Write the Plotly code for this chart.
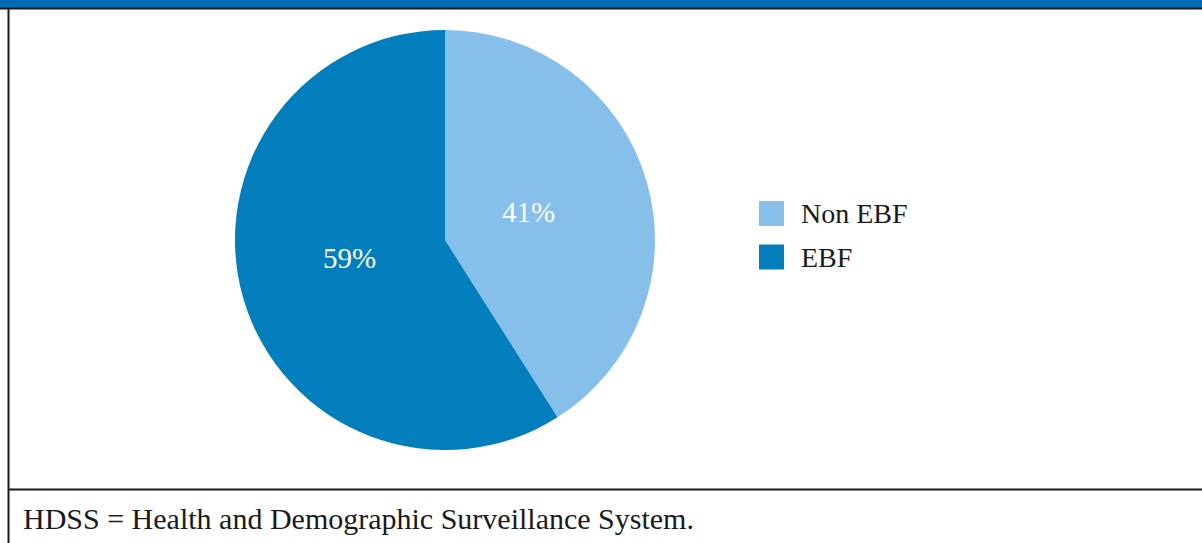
import plotly.graph_objects as go

labels = ["Non EBF", "EBF"]
values = [41, 59]
colors = ["#86BFEA", "#037EBC"]
footnote = "HDSS = Health and Demographic Surveillance System."

W, H = 1202, 543
FONT = "Liberation Serif"

def px(x):
    return x / W

def py(y):
    return 1 - y / H

cx, cy, r = 445, 240, 210

fig = go.Figure()
fig.add_trace(go.Pie(
    labels=labels,
    values=values,
    marker=dict(colors=colors, line=dict(width=0)),
    sort=False,
    direction="clockwise",
    rotation=0,
    textinfo="none",
    domain=dict(x=[px(cx - r), px(cx + r)], y=[py(cy + r), py(cy - r)]),
    showlegend=False,
    hoverinfo="label+percent",
))

shapes = [
    dict(type="rect", xref="paper", yref="paper", x0=0, x1=1, y0=py(8), y1=1,
         fillcolor="#006AB4", line=dict(width=0), layer="above"),
    dict(type="line", xref="paper", yref="paper", x0=0, x1=1, y0=py(8.5), y1=py(8.5),
         line=dict(color="#1a1a1a", width=2)),
    dict(type="line", xref="paper", yref="paper", x0=px(8.5), x1=px(8.5), y0=py(8), y1=0,
         line=dict(color="#1a1a1a", width=2)),
    dict(type="line", xref="paper", yref="paper", x0=px(8), x1=1, y0=py(489.5), y1=py(489.5),
         line=dict(color="#1a1a1a", width=2)),
]

annotations = []
# slice percentage labels
total = sum(values)
label_pos = [(528, 212), (349, 258)]
for v, (lx, ly) in zip(values, label_pos):
    annotations.append(dict(xref="paper", yref="paper", x=px(lx), y=py(ly),
                            xanchor="center", yanchor="middle", showarrow=False,
                            text=f"{round(100 * v / total)}%",
                            font=dict(family=FONT, size=29, color="white")))

leg_x0, leg_y0, leg_dy, sq = 759, 213.5, 43.5, 25
for i, (lab, col) in enumerate(zip(labels, colors)):
    yc = leg_y0 + i * leg_dy
    shapes.append(dict(type="rect", xref="paper", yref="paper",
                       x0=px(leg_x0), x1=px(leg_x0 + sq),
                       y0=py(yc + sq / 2), y1=py(yc - sq / 2),
                       fillcolor=col, line=dict(width=0)))
    annotations.append(dict(xref="paper", yref="paper", x=px(799), y=py(yc),
                            xanchor="left", yanchor="middle", showarrow=False,
                            text=lab, font=dict(family=FONT, size=28, color="#1a1a1a")))

annotations.append(dict(xref="paper", yref="paper", x=px(21), y=py(518),
                        xanchor="left", yanchor="middle", showarrow=False,
                        text=footnote, font=dict(family=FONT, size=30, color="#1a1a1a")))

fig.update_layout(
    width=W, height=H,
    margin=dict(l=0, r=0, t=0, b=0),
    paper_bgcolor="white",
    plot_bgcolor="white",
    shapes=shapes,
    annotations=annotations,
    showlegend=False,
)

fig.write_html("out.html", config={"displayModeBar": False},
               post_script="document.body.style.margin='0';document.body.style.overflow='hidden';")
